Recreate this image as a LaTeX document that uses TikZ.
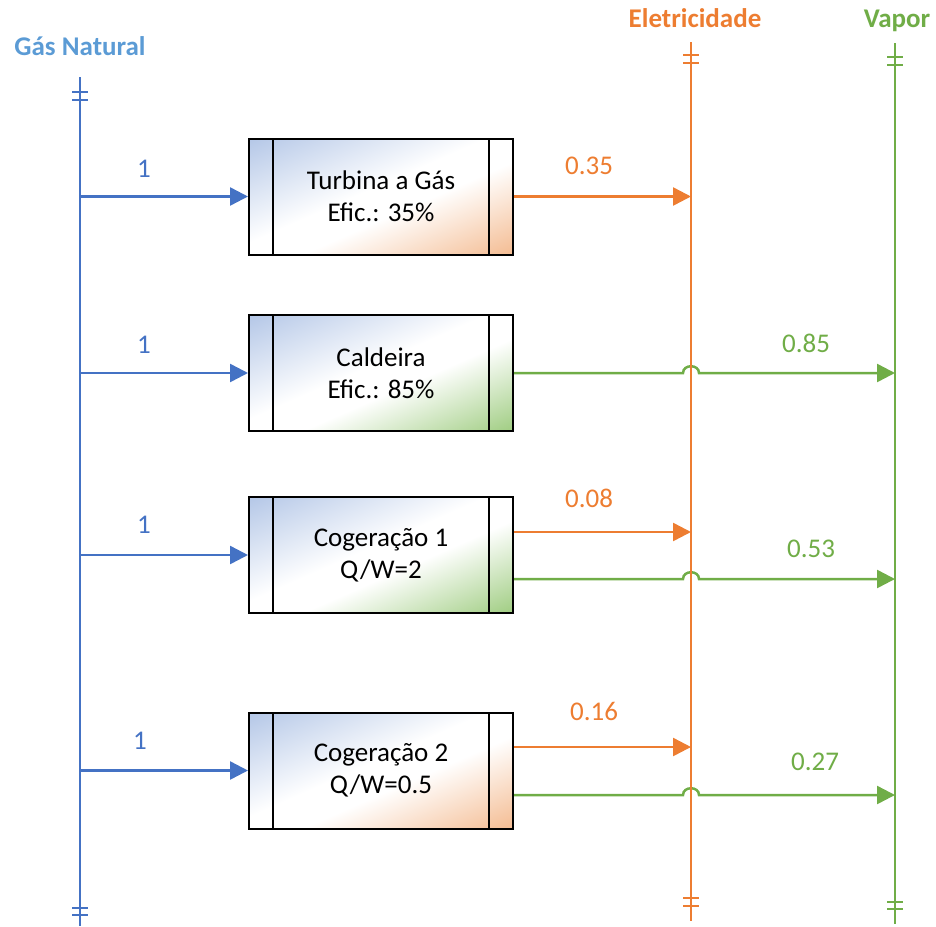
\documentclass[tikz,border=0pt]{standalone}
\usepackage{fontspec}
\setmainfont{Carlito}
\usetikzlibrary{arrows.meta, calc}

\definecolor{gasblue}{RGB}{68,114,196}
\definecolor{gaslabel}{RGB}{91,155,213}
\definecolor{elecorange}{RGB}{237,125,49}
\definecolor{steamgreen}{RGB}{112,173,71}

% diagonal fill of the units: light blue (top left) -> white -> orange or green (bottom right)
\pgfdeclarefunctionalshading{gasorange}{\pgfpointorigin}{\pgfpoint{100bp}{100bp}}{}{
    sub 50 add 100 div
    dup 0 lt {pop 0} if dup 1 gt {pop 1} if
    dup 0.45 lt
    { 0.45 div dup 0.294 mul 0.706 add exch dup 0.220 mul 0.780 add exch 0.094 mul 0.906 add }
    { dup 0.6 gt
      { 0.6 sub 0.4 div dup 0.043 mul 1 exch sub exch dup 0.263 mul 1 exch sub exch 0.427 mul 1 exch sub }
      { pop 1 1 1 } ifelse }
    ifelse
}
\pgfdeclarefunctionalshading{gasgreen}{\pgfpointorigin}{\pgfpoint{100bp}{100bp}}{}{
    sub 50 add 100 div
    dup 0 lt {pop 0} if dup 1 gt {pop 1} if
    dup 0.45 lt
    { 0.45 div dup 0.294 mul 0.706 add exch dup 0.220 mul 0.780 add exch 0.094 mul 0.906 add }
    { dup 0.6 gt
      { 0.6 sub 0.4 div dup 0.373 mul 1 exch sub exch dup 0.196 mul 1 exch sub exch 0.490 mul 1 exch sub }
      { pop 1 1 1 } ifelse }
    ifelse
}

\begin{document}
\begin{tikzpicture}[
    x=0.5pt, y=-0.5pt,
    bus/.style={line width=1.4pt},
    tick/.style={line width=1.4pt},
    flow/.style={line width=1.25pt, -{Triangle[length=9pt, width=9pt]}},
    unitbox/.style={
        draw,
        line width=1pt,
        shade,
        minimum width=132pt,
        minimum height=58pt,
        align=center,
        font=\fontsize{13.5}{15.9}\selectfont,
        path picture={
            \draw[line width=1pt] ([xshift=12pt]path picture bounding box.north west) -- ([xshift=12pt]path picture bounding box.south west);
            \draw[line width=1pt] ([xshift=-12pt]path picture bounding box.north east) -- ([xshift=-12pt]path picture bounding box.south east);
        }
    },
    buslabel/.style={font=\fontsize{13.5}{16}\selectfont\bfseries, anchor=base},
    flowlabel/.style={font=\fontsize{13.5}{16}\selectfont, anchor=base}
]
\useasboundingbox (0,0) rectangle (936,926);

% ==================== BUSES ====================
\coordinate (gastop) at (80,77);
\coordinate (gasbot) at (80,926);
\coordinate (eletop) at (691,42);
\coordinate (elebot) at (691,921);
\coordinate (vaptop) at (895,43);
\coordinate (vapbot) at (895,924);

\node[buslabel, text=gaslabel] (gaslbl) at (80,55) {Gás Natural};
\node[buslabel, text=elecorange] (elelbl) at (695,27) {Eletricidade};
\node[buslabel, text=steamgreen] (vaplbl) at (897,27) {Vapor};

% ==================== UNITS ====================
\node[unitbox, shading=gasorange] (turb) at (381,196.5) {Turbina a Gás\\Efic.: 35\%};
\node[unitbox, shading=gasgreen] (cald) at (381,373) {Caldeira\\Efic.: 85\%};
\node[unitbox, shading=gasgreen] (cog1) at (381,555) {Cogeração 1\\Q/W=2};
\node[unitbox, shading=gasorange] (cog2) at (381,770.5) {Cogeração 2\\Q/W=0.5};

% ==================== GAS INPUTS ====================
\draw[flow, gasblue] (gastop |- turb.west) -- (turb.west);
\draw[flow, gasblue] (gastop |- cald.west) -- (cald.west);
\draw[flow, gasblue] (gastop |- cog1.west) -- (cog1.west);
\draw[flow, gasblue] (gastop |- cog2.west) -- (cog2.west);

\node[flowlabel, text=gasblue] (inturb) at (144,177) {1};
\node[flowlabel, text=gasblue] (incald) at (144,353) {1};
\node[flowlabel, text=gasblue] (incog1) at (144,533) {1};
\node[flowlabel, text=gasblue] (incog2) at (140,749) {1};

% ==================== ELECTRICITY OUTPUTS ====================
\coordinate (cog1el) at ([yshift=11.5pt]cog1.east);
\coordinate (cog2el) at ([yshift=11.75pt]cog2.east);

\draw[flow, elecorange] (turb.east) -- (eletop |- turb.east);
\draw[flow, elecorange] (cog1el) -- (eletop |- cog1el);
\draw[flow, elecorange] (cog2el) -- (eletop |- cog2el);

\node[flowlabel, text=elecorange] (elturb) at (589,174) {0.35};
\node[flowlabel, text=elecorange] (elcog1) at (589,507) {0.08};
\node[flowlabel, text=elecorange] (elcog2) at (594,720) {0.16};

% ==================== STEAM OUTPUTS (hop over electricity bus) ====================
\coordinate (caldhop) at (eletop |- cald.east);
\draw[flow, steamgreen] (cald.east) -- ($(caldhop)+(-8,0)$)
    .. controls ($(caldhop)+(-8,-9)$) and ($(caldhop)+(8,-9)$) .. ($(caldhop)+(8,0)$)
    -- (vaptop |- cald.east);

\coordinate (cog1out) at ([yshift=-12pt]cog1.east);
\coordinate (cog1hop) at (eletop |- cog1out);
\draw[flow, steamgreen] (cog1out) -- ($(cog1hop)+(-8,0)$)
    .. controls ($(cog1hop)+(-8,-9)$) and ($(cog1hop)+(8,-9)$) .. ($(cog1hop)+(8,0)$)
    -- (vaptop |- cog1out);

\coordinate (cog2out) at ([yshift=-12.25pt]cog2.east);
\coordinate (cog2hop) at (eletop |- cog2out);
\draw[flow, steamgreen] (cog2out) -- ($(cog2hop)+(-8,0)$)
    .. controls ($(cog2hop)+(-8,-9)$) and ($(cog2hop)+(8,-9)$) .. ($(cog2hop)+(8,0)$)
    -- (vaptop |- cog2out);

\node[flowlabel, text=steamgreen] (vpcald) at (806,352) {0.85};
\node[flowlabel, text=steamgreen] (vpcog1) at (811,557) {0.53};
\node[flowlabel, text=steamgreen] (vpcog2) at (815,770) {0.27};

% ==================== BUS LINES ====================
\draw[bus, gasblue] (gastop) -- (gasbot);
\draw[bus, elecorange] (eletop) -- (elebot);
\draw[bus, steamgreen] (vaptop) -- (vapbot);

% Bus end ticks
\foreach \y in {92,100,908,915}
    \draw[tick, gasblue] (72,\y) -- (88,\y);
\foreach \y in {55,63,898,906}
    \draw[tick, elecorange] (683,\y) -- (699,\y);
\foreach \y in {57,65,902,909}
    \draw[tick, steamgreen] (887,\y) -- (903,\y);

\end{tikzpicture}
\end{document}
